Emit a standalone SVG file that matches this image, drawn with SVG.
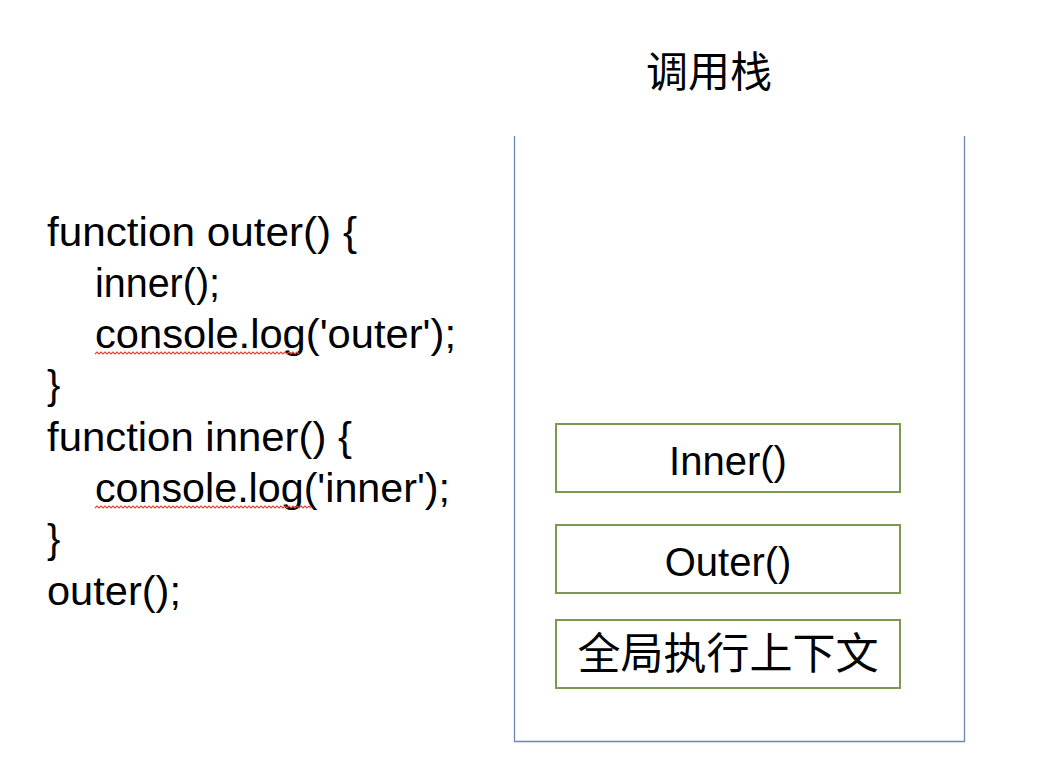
<svg xmlns="http://www.w3.org/2000/svg" width="1044" height="774" viewBox="0 0 1044 774">
<style>
.code{font-family:"Liberation Sans","Noto Sans CJK SC",sans-serif;font-size:40px;fill:#000}
.lbl{font-family:"Liberation Sans","Noto Sans CJK SC",sans-serif;font-size:40px;fill:#000;text-anchor:middle}
.cjk{font-family:"Noto Sans CJK SC",sans-serif;fill:#000;text-anchor:middle}
.box{fill:#fff;stroke:#7a9a52;stroke-width:2}
.stack{fill:none;stroke:#6f86ad;stroke-width:1.3}
.wave{fill:none;stroke:#e0453a;stroke-width:1.2}
</style>
<rect width="1044" height="774" fill="#fff"/>
<g id="title"><text class="cjk" x="709" y="87" font-size="42">调用栈</text></g>
<g id="code">
<text class="code" x="47" y="246" textLength="310" lengthAdjust="spacingAndGlyphs">function outer() {</text>
<text class="code" x="95" y="297" textLength="125" lengthAdjust="spacingAndGlyphs">inner();</text>
<text class="code" x="95" y="348" textLength="361" lengthAdjust="spacingAndGlyphs">console.log('outer');</text>
<text class="code" x="47" y="399">}</text>
<text class="code" x="47" y="451" textLength="305" lengthAdjust="spacingAndGlyphs">function inner() {</text>
<text class="code" x="95" y="502" textLength="355" lengthAdjust="spacingAndGlyphs">console.log('inner');</text>
<text class="code" x="47" y="553">}</text>
<text class="code" x="47" y="605" textLength="134" lengthAdjust="spacingAndGlyphs">outer();</text>
<path class="wave" d="M95 354 l2 -2 l2 2 l2 -2 l2 2 l2 -2 l2 2 l2 -2 l2 2 l2 -2 l2 2 l2 -2 l2 2 l2 -2 l2 2 l2 -2 l2 2 l2 -2 l2 2 l2 -2 l2 2 l2 -2 l2 2 l2 -2 l2 2 l2 -2 l2 2 l2 -2 l2 2 l2 -2 l2 2 l2 -2 l2 2 l2 -2 l2 2 l2 -2 l2 2 l2 -2 l2 2 l2 -2 l2 2 l2 -2 l2 2 l2 -2 l2 2 l2 -2 l2 2 l2 -2 l2 2 l2 -2 l2 2 l2 -2 l2 2 l2 -2 l2 2 l2 -2 l2 2 l2 -2 l2 2 l2 -2 l2 2 l2 -2 l2 2 l2 -2 l2 2 l2 -2 l2 2 l2 -2 l2 2 l2 -2 l2 2 l2 -2 l2 2 l2 -2 l2 2 l2 -2 l2 2 l2 -2 l2 2 l2 -2 l2 2 l2 -2 l2 2 l2 -2 l2 2 l2 -2 l2 2 l2 -2 l2 2 l2 -2 l2 2 l2 -2 l2 2 l2 -2 l2 2 l2 -2 l2 2 l2 -2 l2 2 l2 -2 l2 2 l2 -2 l2 2"/>
<path class="wave" d="M95 508 l2 -2 l2 2 l2 -2 l2 2 l2 -2 l2 2 l2 -2 l2 2 l2 -2 l2 2 l2 -2 l2 2 l2 -2 l2 2 l2 -2 l2 2 l2 -2 l2 2 l2 -2 l2 2 l2 -2 l2 2 l2 -2 l2 2 l2 -2 l2 2 l2 -2 l2 2 l2 -2 l2 2 l2 -2 l2 2 l2 -2 l2 2 l2 -2 l2 2 l2 -2 l2 2 l2 -2 l2 2 l2 -2 l2 2 l2 -2 l2 2 l2 -2 l2 2 l2 -2 l2 2 l2 -2 l2 2 l2 -2 l2 2 l2 -2 l2 2 l2 -2 l2 2 l2 -2 l2 2 l2 -2 l2 2 l2 -2 l2 2 l2 -2 l2 2 l2 -2 l2 2 l2 -2 l2 2 l2 -2 l2 2 l2 -2 l2 2 l2 -2 l2 2 l2 -2 l2 2 l2 -2 l2 2 l2 -2 l2 2 l2 -2 l2 2 l2 -2 l2 2 l2 -2 l2 2 l2 -2 l2 2 l2 -2 l2 2 l2 -2 l2 2 l2 -2 l2 2 l2 -2 l2 2 l2 -2 l2 2 l2 -2 l2 2 l2 -2 l2 2 l2 -2 l2 2 l2 -2 l2 2 l2 -2 l2 2"/>
</g>
<g id="stack"><path class="stack" d="M514.5 136 V741.5 H964.5 V136"/></g>
<g id="node-inner">
<rect class="box" x="556" y="424" width="344" height="68"/>
<text class="lbl" x="728" y="475">Inner()</text>
</g>
<g id="node-outer">
<rect class="box" x="556" y="525" width="344" height="68"/>
<text class="lbl" x="728" y="576">Outer()</text>
</g>
<g id="node-global">
<rect class="box" x="556" y="620" width="344" height="68"/>
<text class="cjk" x="728" y="669" font-size="43">全局执行上下文</text>
</g>
<g id="connectors"></g>
</svg>
